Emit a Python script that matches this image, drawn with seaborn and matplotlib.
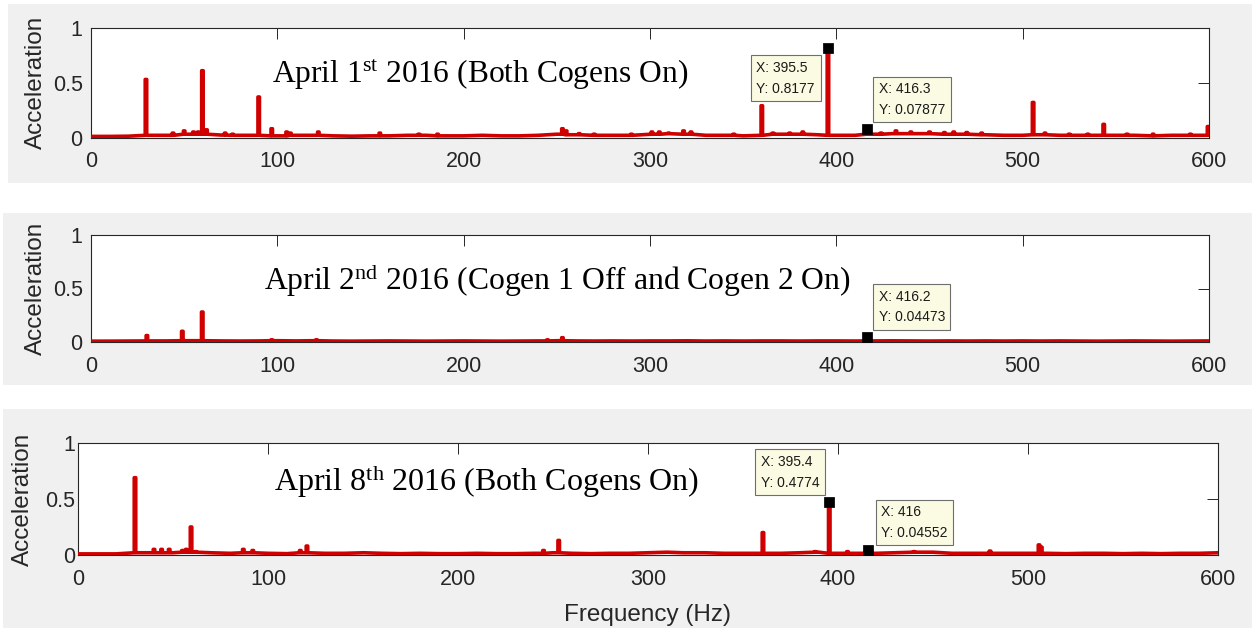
import numpy as np
import pandas as pd
import matplotlib
matplotlib.use("Agg")
import matplotlib.pyplot as plt
from matplotlib.patches import Rectangle
import seaborn as sns

# ---------------------------------------------------------------- data
# Noise floor of each spectrum, sampled every 10 Hz from 0 to 600 Hz
floor_grid = list(range(0, 601, 10))

floor_apr01 = [0.010, 0.010, 0.012, 0.020, 0.020, 0.030, 0.030, 0.022, 0.020, 0.020,
               0.015, 0.020, 0.020, 0.015, 0.012, 0.015, 0.015, 0.020, 0.020, 0.015,
               0.015, 0.020, 0.015, 0.015, 0.020, 0.030, 0.025, 0.020, 0.020, 0.020,
               0.030, 0.035, 0.030, 0.020, 0.020, 0.015, 0.020, 0.030, 0.030, 0.025,
               0.020, 0.020, 0.030, 0.035, 0.035, 0.035, 0.030, 0.030, 0.025, 0.020,
               0.020, 0.025, 0.020, 0.020, 0.020, 0.020, 0.020, 0.015, 0.020, 0.020,
               0.020]
floor_apr02 = [0.008, 0.008, 0.009, 0.010, 0.010, 0.012, 0.012, 0.010, 0.009, 0.010,
               0.012, 0.010, 0.012, 0.009, 0.008, 0.009, 0.010, 0.009, 0.008, 0.009,
               0.010, 0.009, 0.008, 0.009, 0.010, 0.012, 0.010, 0.009, 0.010, 0.009,
               0.010, 0.010, 0.011, 0.009, 0.010, 0.009, 0.010, 0.010, 0.009, 0.010,
               0.010, 0.009, 0.010, 0.011, 0.010, 0.009, 0.010, 0.009, 0.010, 0.009,
               0.010, 0.009, 0.010, 0.009, 0.008, 0.009, 0.010, 0.009, 0.008, 0.009,
               0.010]
floor_apr08 = [0.010, 0.010, 0.010, 0.020, 0.020, 0.020, 0.025, 0.020, 0.015, 0.020,
               0.015, 0.012, 0.020, 0.015, 0.015, 0.020, 0.015, 0.012, 0.015, 0.012,
               0.012, 0.015, 0.012, 0.012, 0.015, 0.020, 0.015, 0.012, 0.015, 0.015,
               0.020, 0.025, 0.020, 0.020, 0.015, 0.015, 0.015, 0.015, 0.020, 0.025,
               0.015, 0.015, 0.015, 0.020, 0.025, 0.025, 0.015, 0.015, 0.015, 0.015,
               0.015, 0.015, 0.012, 0.015, 0.015, 0.012, 0.015, 0.012, 0.015, 0.015,
               0.020]

# Spectral lines (frequency in Hz, acceleration amplitude)
peaks_apr01_hz = [29.5, 44, 50, 55, 57.5, 59.8, 62, 72, 76, 90, 97, 105, 107, 122, 155,
                  176, 186, 253, 255, 262, 270, 290, 301, 305, 310, 318, 322, 345, 360,
                  366, 375, 382, 395.5, 416.3, 424, 432, 440, 450, 458, 463, 470, 478,
                  505.6, 512, 525, 535, 543.5, 556, 570, 590, 599.5]
peaks_apr01_amp = [0.53, 0.04, 0.06, 0.05, 0.05, 0.61, 0.07, 0.04, 0.03, 0.37, 0.08, 0.05,
                   0.04, 0.05, 0.04, 0.03, 0.03, 0.08, 0.06, 0.035, 0.03, 0.03, 0.05, 0.05,
                   0.04, 0.06, 0.05, 0.03, 0.29, 0.04, 0.04, 0.05, 0.8177, 0.07877, 0.04,
                   0.06, 0.05, 0.05, 0.045, 0.05, 0.045, 0.04, 0.32, 0.04, 0.03, 0.03,
                   0.12, 0.03, 0.03, 0.03, 0.10]

peaks_apr02_hz = [30, 49, 59.7, 97, 121, 245, 253, 416.2]
peaks_apr02_amp = [0.06, 0.10, 0.28, 0.02, 0.02, 0.02, 0.04, 0.04473]

peaks_apr08_hz = [30, 40, 44, 48, 55, 57, 59.5, 62, 87, 92, 117, 120.5, 150, 245, 253,
                  300, 318, 360.5, 388, 395.4, 405, 416, 440, 480, 505.8, 507, 600]
peaks_apr08_amp = [0.69, 0.05, 0.05, 0.05, 0.04, 0.05, 0.25, 0.03, 0.05, 0.04, 0.04, 0.08,
                   0.02, 0.04, 0.13, 0.02, 0.02, 0.20, 0.03, 0.4774, 0.03, 0.04552, 0.03,
                   0.035, 0.09, 0.07, 0.02]

# Data-tip readouts: (frequency, amplitude)
tips_apr01 = [(395.5, 0.8177), (416.3, 0.07877)]
tips_apr02 = [(416.2, 0.04473)]
tips_apr08 = [(395.4, 0.4774), (416, 0.04552)]

titles = ["April 1$^{\\rm st}$ 2016 (Both Cogens On)",
          "April 2$^{\\rm nd}$ 2016 (Cogen 1 Off and Cogen 2 On)",
          "April 8$^{\\rm th}$ 2016 (Both Cogens On)"]

x_ticks = [0, 100, 200, 300, 400, 500, 600]
y_ticks = [0, 0.5, 1]
y_tick_labels = ["0", "0.5", "1"]


def spectrum_frame(floor, pk_hz, pk_amp, half_width=0.4):
    """Combine the noise floor and the spectral lines into one trace."""
    pts = []
    for f, a in zip(floor_grid, floor):
        if all(abs(f - p) > half_width + 0.1 for p in pk_hz):
            pts.append((f, 0, a))
    for p, a in zip(pk_hz, pk_amp):
        foot = floor[int(round(p / 10))]
        pts += [(p - half_width, 0, foot), (p - half_width, 1, a),
                (p + half_width, 0, a), (p + half_width, 1, foot)]
    pts.sort(key=lambda t: (t[0], t[1]))
    return pd.DataFrame({"Frequency": [t[0] for t in pts],
                         "Acceleration": [t[2] for t in pts]})


# ---------------------------------------------------------------- style
sns.set_style("white")
plt.rcParams["font.family"] = ["Liberation Sans", "DejaVu Sans"]
plt.rcParams["mathtext.fontset"] = "custom"
plt.rcParams["mathtext.rm"] = "Liberation Serif"
plt.rcParams["mathtext.it"] = "Liberation Serif:italic"

W, H = 1252, 628
fig = plt.figure(figsize=(W / 100, H / 100), dpi=100, facecolor="white")


def rect(l, t, r, b):
    return [l / W, 1 - b / H, (r - l) / W, (b - t) / H]


# grey figure backgrounds of the three exported panels
for (l, t, r, b) in [(8, 4, 1252, 183), (3, 213, 1252, 385), (3, 409, 1252, 628)]:
    fig.add_artist(Rectangle((l / W, 1 - b / H), (r - l) / W, (b - t) / H,
                             transform=fig.transFigure, facecolor="#f0f0f0",
                             edgecolor="none", zorder=-10))

axes_px = [(91, 28, 1209, 137.5), (91, 235, 1209, 342), (78, 443, 1218, 555)]
frames = [spectrum_frame(floor_apr01, peaks_apr01_hz, peaks_apr01_amp),
          spectrum_frame(floor_apr02, peaks_apr02_hz, peaks_apr02_amp),
          spectrum_frame(floor_apr08, peaks_apr08_hz, peaks_apr08_amp)]
tips = [tips_apr01, tips_apr02, tips_apr08]
title_pos = [(0.162, 0.50), (0.155, 0.486), (0.172, 0.571)]
title_size = [22.7, 22.8, 23.0]
ytick_pad = [6, 6, 2]
# text-anchor offsets (pixels) and alignment of each data-tip box
tip_layout = [[((-13, -13), "right", "top"), ((12, 12), "left", "bottom")],
              [((12, 13), "left", "bottom")],
              [((-10, 12), "right", "bottom"), ((13, 10), "left", "bottom")]]

axis_col = "#262626"
line_col = "#d00000"

for i, (px, df) in enumerate(zip(axes_px, frames)):
    ax = fig.add_axes(rect(*px))
    ax.set_facecolor("white")
    sns.lineplot(data=df, x="Frequency", y="Acceleration", ax=ax, color=line_col,
                 linewidth=2.6, estimator=None, sort=False, zorder=3)

    tip_df = pd.DataFrame({"Frequency": [t[0] for t in tips[i]],
                           "Acceleration": [t[1] for t in tips[i]]})
    sns.scatterplot(data=tip_df, x="Frequency", y="Acceleration", ax=ax, marker="s",
                    s=44, color="black", edgecolor="black", zorder=6, clip_on=False)
    for (fx, fy), (off, ha, va) in zip(tips[i], tip_layout[i]):
        ax.annotate(f"X: {fx:g}\nY: {fy:g}", xy=(fx, fy), xytext=off,
                    textcoords="offset pixels", ha=ha, va=va, fontsize=10,
                    multialignment="left", color="#1a1a1a", linespacing=1.6,
                    zorder=7,
                    bbox=dict(boxstyle="square,pad=0.4", facecolor="#fbfbe3",
                              edgecolor="#6e6e6e", linewidth=0.8))

    ax.set_xlim(0, 600)
    ax.set_ylim(0, 1)
    ax.set_xticks(x_ticks)
    ax.set_xticklabels([str(v) for v in x_ticks])
    ax.set_yticks(y_ticks)
    ax.set_yticklabels(y_tick_labels)
    ax.tick_params(direction="in", length=7.9, width=0.7, colors=axis_col,
                   labelsize=15.5, top=True, right=True)
    ax.tick_params(axis="x", pad=10)
    ax.tick_params(axis="y", pad=ytick_pad[i])
    for s in ax.spines.values():
        s.set_color(axis_col)
        s.set_linewidth(0.8)
        s.set_visible(True)
    ax.set_ylabel("Acceleration", fontsize=17.5, color=axis_col)
    ax.yaxis.set_label_coords(-44 / (px[2] - px[0]), 0.5)
    if i == 2:
        ax.set_xlabel("Frequency (Hz)", fontsize=17.5, color=axis_col)
        ax.xaxis.set_label_coords(0.5, -(604 - px[3]) / (px[3] - px[1]))
    else:
        ax.set_xlabel("")

    tx, ty = title_pos[i]
    ax.text(tx, ty, titles[i], transform=ax.transAxes, ha="left", va="baseline",
            fontsize=title_size[i], family="Liberation Serif", color="black",
            zorder=5)

fig.savefig("out.png", dpi=100, facecolor="white")
